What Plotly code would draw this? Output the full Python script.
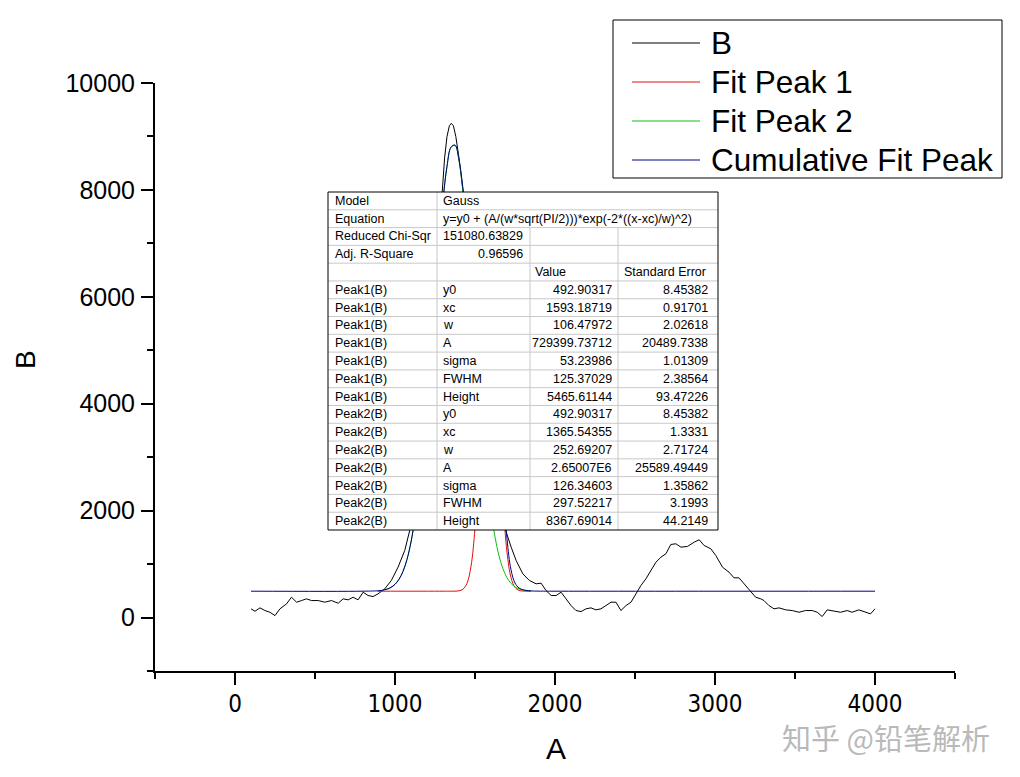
import plotly.graph_objects as go

b_x = [100, 125, 156, 187, 218, 250, 281, 322, 353, 385, 416, 447, 478, 520, 561, 603,
       645, 676, 707, 738, 769, 801, 832, 863, 894, 936, 977, 1019, 1061, 1092, 1125,
       1150, 1200, 1250, 1296, 1310, 1325, 1340, 1352, 1365, 1380, 1400, 1424, 1450,
       1500, 1550, 1600, 1650, 1695, 1726, 1757, 1799, 1840, 1882, 1913, 1944, 1976,
       2007, 2038, 2069, 2100, 2131, 2163, 2194, 2225, 2256, 2287, 2319, 2350, 2381,
       2412, 2444, 2475, 2506, 2537, 2568, 2600, 2631, 2662, 2693, 2724, 2755, 2787,
       2828, 2870, 2901, 2932, 2974, 3005, 3047, 3088, 3119, 3150, 3181, 3223, 3254,
       3286, 3306, 3337, 3369, 3400, 3442, 3483, 3525, 3566, 3608, 3639, 3670, 3701,
       3743, 3785, 3826, 3857, 3899, 3940, 3972, 4000]
b_y = [163, 118, 181, 131, 99, 37, 163, 256, 380, 287, 318, 350, 318, 318, 287, 318,
       268, 350, 331, 380, 331, 474, 412, 393, 443, 537, 693, 942, 1255, 1630, 2300,
       3000, 4600, 6300, 8000, 8600, 9000, 9200, 9245, 9200, 9000, 8600, 8000, 7100,
       5400, 4000, 2900, 2150, 1598, 1317, 1067, 818, 693, 631, 643, 506, 412,
       412, 474, 350, 225, 131, 112, 163, 181, 144, 163, 225, 287, 287,
       131, 225, 287, 443, 599, 724, 880, 1036, 1129, 1193, 1367, 1380, 1317,
       1330, 1410, 1455, 1348, 1286, 1161, 942, 848, 743, 743, 631, 474, 380,
       350, 318, 225, 163, 181, 144, 131, 99, 131, 131, 99, 19, 144,
       118, 99, 131, 99, 144, 99, 69, 163]

peak1_x = [890, 1300, 1350, 1375, 1400, 1425, 1450, 1475, 1500, 1525, 1550, 1575, 1590,
           1600, 1625, 1650, 1675, 1700, 1725, 1750, 1775, 1800, 1825, 1850]
peak1_y = [493, 493, 493, 494, 500, 530, 640, 958, 1674, 2899, 4426, 5649, 5947,
           5914, 5066, 3587, 2172, 1224, 748, 564, 509, 496, 493, 493]

peak2_x = [900, 925, 950, 975, 1000, 1025, 1050, 1075, 1100, 1125, 1150, 1175,
           1200, 1225, 1250, 1275, 1300, 1325, 1350, 1375, 1400, 1425, 1450, 1475,
           1500, 1525, 1550, 1575, 1600, 1625, 1650, 1675, 1700, 1725, 1750, 1775,
           1800, 1825, 1850]
peak2_y = [502, 512, 531, 564, 621, 715, 863, 1088, 1413, 1861, 2447, 3178,
           4041, 5002, 6003, 6968, 7809, 8441, 8798, 8837, 8554, 7982, 7184, 6241,
           5241, 4265, 3375, 2609, 1987, 1509, 1156, 910, 745, 639, 575, 537,
           516, 504, 498]

cum_x = [100, 800, 900, 925, 950, 975, 1000, 1025, 1050, 1075, 1100, 1125, 1150, 1175,
         1200, 1225, 1250, 1275, 1300, 1325, 1350, 1375, 1400, 1425, 1450, 1475,
         1500, 1525, 1550, 1575, 1600, 1625, 1650, 1675, 1700, 1725, 1750, 1775,
         1800, 1825, 1850, 1900, 2000, 4000]
cum_y = [493, 493, 502, 512, 531, 564, 621, 715, 863, 1088, 1413, 1861, 2447, 3178,
         4041, 5002, 6003, 6968, 7809, 8441, 8798, 8838, 8561, 8019, 7331, 6706,
         6422, 6671, 7308, 7765, 7408, 6082, 4250, 2589, 1476, 894, 646, 553,
         519, 505, 498, 494, 493, 493]

legend_names = ["B", "Fit Peak 1", "Fit Peak 2", "Cumulative Fit Peak"]
legend_colors = ["black", "#e01010", "#10c010", "#000080"]

# fit report table
table_head = [["Model", "Gauss"],
              ["Equation", "y=y0 + (A/(w*sqrt(PI/2)))*exp(-2*((x-xc)/w)^2)"],
              ["Reduced Chi-Sqr", "151080.63829"],
              ["Adj. R-Square", "0.96596"]]
params = ["y0", "xc", "w", "A", "sigma", "FWHM", "Height"]
peak1_value = ["492.90317", "1593.18719", "106.47972", "729399.73712", "53.23986", "125.37029", "5465.61144"]
peak1_se = ["8.45382", "0.91701", "2.02618", "20489.7338", "1.01309", "2.38564", "93.47226"]
peak2_value = ["492.90317", "1365.54355", "252.69207", "2.65007E6", "126.34603", "297.52217", "8367.69014"]
peak2_se = ["8.45382", "1.3331", "2.71724", "25589.49449", "1.35862", "3.1993", "44.2149"]

# ---- page geometry (pixels on the page) ----
W, H = 1020, 777
OFF = 8  # the html body margin shifts the figure by this much
L, R, T, B = 155, 955, 83, 671


def px(x):
    return (x - L) / (R - L)


def py(y):
    return (B - y) / (B - T)


FONT = "Liberation Sans, Arial, sans-serif"

fig = go.Figure()
series = [(b_x, b_y, "linear"), (peak1_x, peak1_y, "spline"),
          (peak2_x, peak2_y, "spline"), (cum_x, cum_y, "spline")]
for (xs, ys, shape), name, col in zip(series, legend_names, legend_colors):
    fig.add_trace(go.Scatter(x=xs, y=ys, mode="lines", name=name, showlegend=False,
                             line=dict(color=col, width=1, shape=shape)))

shapes = []
annots = []

# legend box drawn by hand (Origin style long line samples)
shapes.append(dict(type="rect", xref="paper", yref="paper", x0=px(613), x1=px(1002),
                   y0=py(20), y1=py(178), line=dict(color="black", width=1),
                   fillcolor="white"))
for i, (name, col) in enumerate(zip(legend_names, legend_colors)):
    yy = 43 + i * 39
    shapes.append(dict(type="line", xref="paper", yref="paper", x0=px(632), x1=px(700),
                       y0=py(yy), y1=py(yy), line=dict(color=col, width=1)))
    annots.append(dict(x=px(709), y=py(yy), xref="paper", yref="paper", text=name,
                       showarrow=False, xanchor="left", yanchor="middle",
                       font=dict(family=FONT, size=31.5, color="black")))

# fit table
tl, tr, tt, tb = 328, 718, 192, 530
cols = [437, 530, 618]
nrows = 19
rh = (tb - tt) / nrows
shapes.append(dict(type="rect", xref="paper", yref="paper", x0=px(tl), x1=px(tr),
                   y0=py(tt), y1=py(tb), fillcolor="white", line=dict(width=0)))
for r in range(1, nrows):
    yy = tt + r * rh
    shapes.append(dict(type="line", xref="paper", yref="paper", x0=px(tl), x1=px(tr),
                       y0=py(yy), y1=py(yy), line=dict(color="#c8c8c8", width=1)))
shapes.append(dict(type="line", xref="paper", yref="paper", x0=px(cols[0]), x1=px(cols[0]),
                   y0=py(tt), y1=py(tb), line=dict(color="#c8c8c8", width=1)))
for c in cols[1:]:
    shapes.append(dict(type="line", xref="paper", yref="paper", x0=px(c), x1=px(c),
                       y0=py(tt + 2 * rh), y1=py(tb), line=dict(color="#c8c8c8", width=1)))
shapes.append(dict(type="rect", xref="paper", yref="paper", x0=px(tl), x1=px(tr),
                   y0=py(tt), y1=py(tb), line=dict(color="black", width=1)))


def cell(text, x, row, anchor):
    annots.append(dict(x=px(x), y=py(tt + (row + 0.5) * rh), xref="paper", yref="paper",
                       text=text, showarrow=False, xanchor=anchor, yanchor="middle",
                       font=dict(family=FONT, size=12.5, color="black")))


for r, (a, b) in enumerate(table_head):
    cell(a, tl + 5, r, "left")
    if r < 2:
        cell(b, cols[0] + 4, r, "left")
    else:
        cell(b, cols[1] - 5, r, "right")
cell("Value", cols[1] + 3, 4, "left")
cell("Standard Error", cols[2] + 4, 4, "left")
for k, (lab, vals, ses) in enumerate([("Peak1(B)", peak1_value, peak1_se),
                                      ("Peak2(B)", peak2_value, peak2_se)]):
    for j in range(7):
        r = 5 + k * 7 + j
        cell(lab, tl + 5, r, "left")
        cell(params[j], cols[0] + 4, r, "left")
        cell(vals[j], cols[2] - 4, r, "right")
        cell(ses[j], tr - 8, r, "right")

# axis titles and watermark
annots.append(dict(x=px(556), y=py(748), xref="paper", yref="paper", text="A",
                   showarrow=False, xanchor="center", yanchor="middle",
                   font=dict(family=FONT, size=30, color="black")))
annots.append(dict(x=px(25), y=py(360), xref="paper", yref="paper", text="B",
                   showarrow=False, xanchor="center", yanchor="middle", textangle=-90,
                   font=dict(family=FONT, size=28, color="black")))
annots.append(dict(x=px(886), y=py(737), xref="paper", yref="paper", text="知乎 @铅笔解析",
                   showarrow=False, xanchor="center", yanchor="middle",
                   font=dict(family="Noto Sans CJK SC", size=29, color="#b9b9b9")))

fig.update_layout(
    width=W, height=H,
    margin=dict(l=L - OFF, r=W - R + OFF, t=T - OFF, b=H - B + OFF),
    paper_bgcolor="white", plot_bgcolor="white",
    font=dict(family=FONT, color="black"),
    shapes=shapes, annotations=annots,
    showlegend=False,
)
fig.update_xaxes(range=[-500, 4500], tick0=0, dtick=1000, tickformat="d",
                 showgrid=False, zeroline=False,
                 showline=True, linecolor="black", linewidth=2, ticks="outside",
                 ticklen=12, tickwidth=2, tickcolor="black", ticklabelstandoff=-2,
                 tickfont=dict(family="Liberation Sans Narrow, DejaVu Sans Condensed, " + FONT,
                               size=24, color="black"),
                 minor=dict(ticks="outside", ticklen=6, tickwidth=2, tickcolor="black",
                            dtick=500, showgrid=False))
fig.update_yaxes(range=[-1000, 10000], tick0=0, dtick=2000, tickformat="d",
                 showgrid=False, zeroline=False,
                 showline=True, linecolor="black", linewidth=2, ticks="outside",
                 ticklen=12, tickwidth=2, tickcolor="black", ticklabelstandoff=1,
                 tickfont=dict(family=FONT, size=25, color="black"),
                 minor=dict(ticks="outside", ticklen=6, tickwidth=2, tickcolor="black",
                            dtick=1000, showgrid=False))

fig.write_html("out.html")
